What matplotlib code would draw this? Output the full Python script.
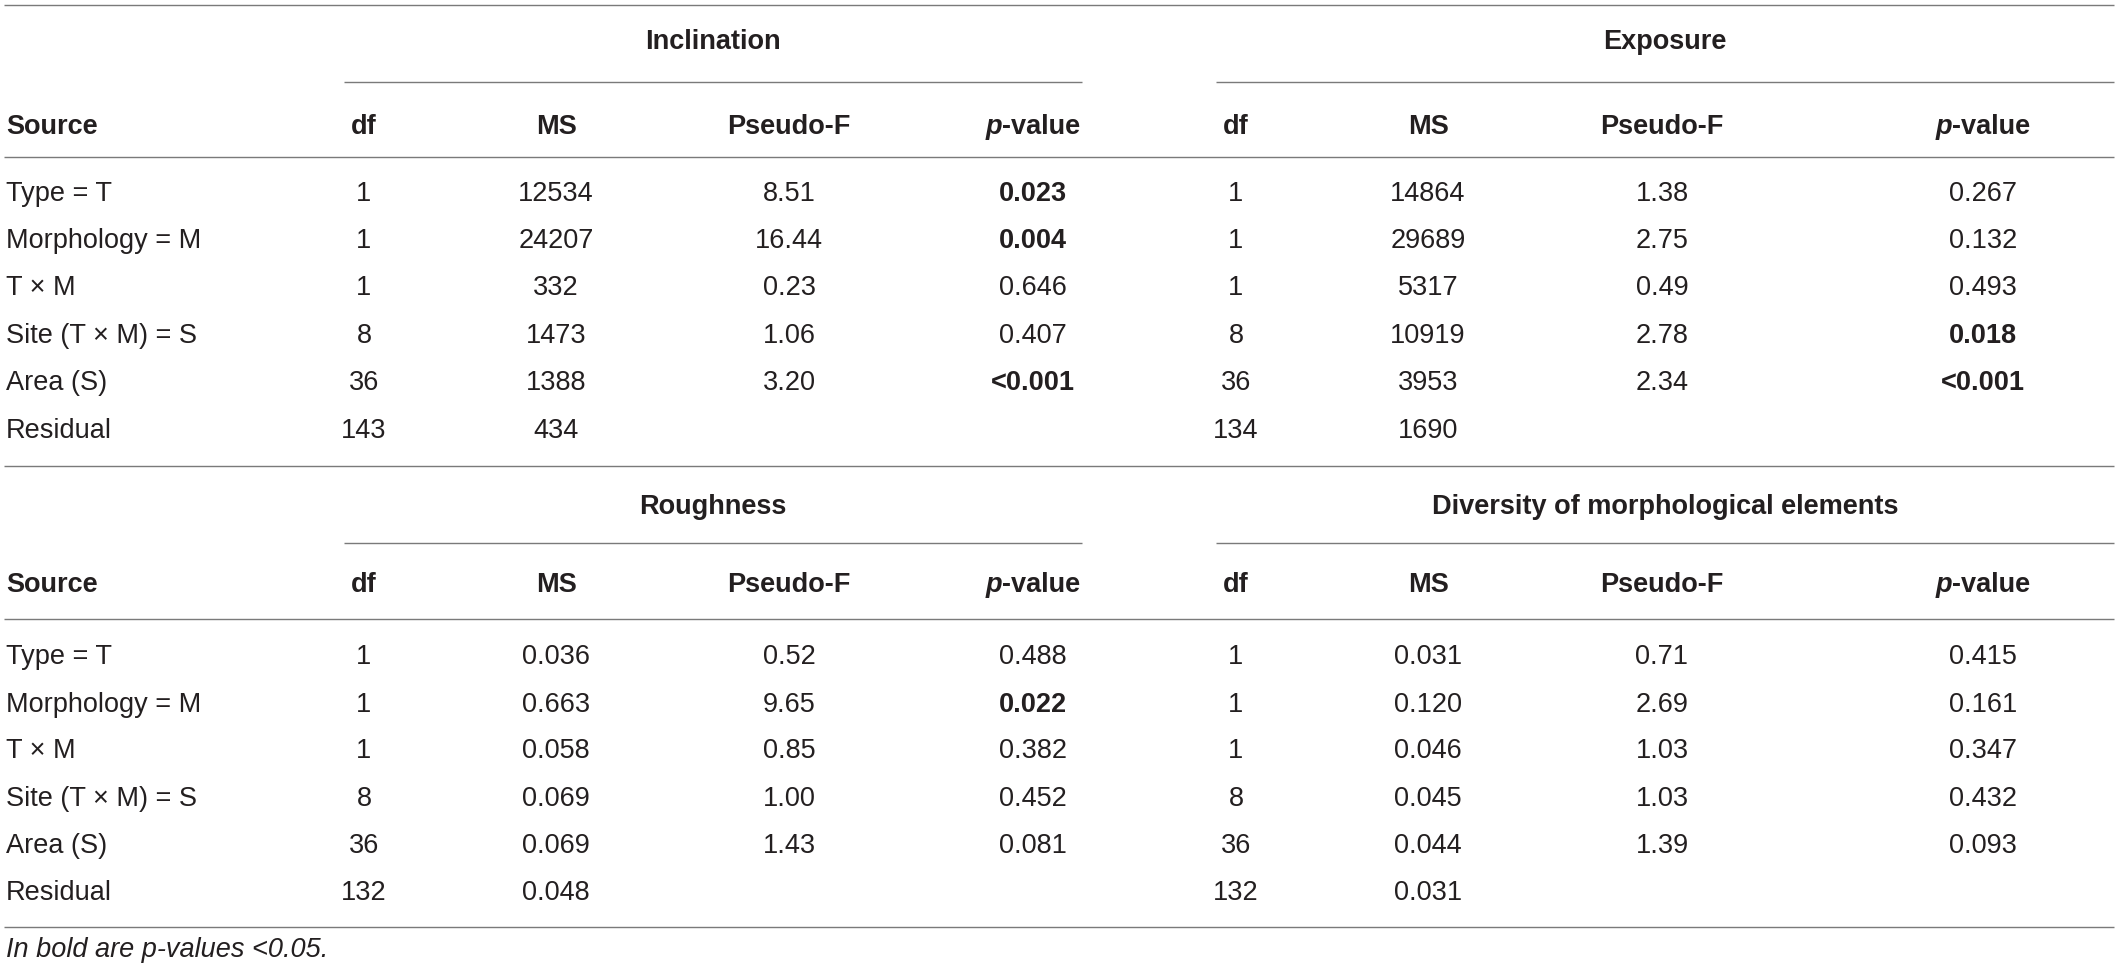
import matplotlib.pyplot as plt

plt.rcParams['font.family'] = ['Liberation Sans', 'DejaVu Sans']

W, H = 2118, 975
FS = 19.5
TXT = '#231f20'
LINE = '#7a7a7a'

# table data
sources = ["Type = T", "Morphology = M", "T \u00d7 M", "Site (T \u00d7 M) = S", "Area (S)", "Residual"]

incl_df = ["1", "1", "1", "8", "36", "143"]
incl_ms = ["12534", "24207", "332", "1473", "1388", "434"]
incl_f = ["8.51", "16.44", "0.23", "1.06", "3.20", ""]
incl_p = ["0.023", "0.004", "0.646", "0.407", "<0.001", ""]

expo_df = ["1", "1", "1", "8", "36", "134"]
expo_ms = ["14864", "29689", "5317", "10919", "3953", "1690"]
expo_f = ["1.38", "2.75", "0.49", "2.78", "2.34", ""]
expo_p = ["0.267", "0.132", "0.493", "0.018", "<0.001", ""]

rough_df = ["1", "1", "1", "8", "36", "132"]
rough_ms = ["0.036", "0.663", "0.058", "0.069", "0.069", "0.048"]
rough_f = ["0.52", "9.65", "0.85", "1.00", "1.43", ""]
rough_p = ["0.488", "0.022", "0.382", "0.452", "0.081", ""]

div_df = ["1", "1", "1", "8", "36", "132"]
div_ms = ["0.031", "0.120", "0.046", "0.045", "0.044", "0.031"]
div_f = ["0.71", "2.69", "1.03", "1.03", "1.39", ""]
div_p = ["0.415", "0.161", "0.347", "0.432", "0.093", ""]

col_names = ["df", "MS", "Pseudo-F"]
footnote = "In bold are p-values <0.05."

# layout (pixels)
left_cols = [364, 556, 789, 1033]
right_cols = [1236, 1428, 1662, 1983]
left_span = (344, 1082)
right_span = (1216, 2114)
blocks = [
    dict(top=40, sub=82, head=125, rule=157, rows=[192, 239, 286, 334, 381, 429],
         left=("Inclination", incl_df, incl_ms, incl_f, incl_p),
         right=("Exposure", expo_df, expo_ms, expo_f, expo_p)),
    dict(top=505, sub=543, head=583, rule=619, rows=[655, 703, 749, 797, 844, 891],
         left=("Roughness", rough_df, rough_ms, rough_f, rough_p),
         right=("Diversity of morphological elements", div_df, div_ms, div_f, div_p)),
]
BASE = 9  # baseline offset from visual centre


def is_sig(p):
    if p == "":
        return False
    if p.startswith("<"):
        return True
    return float(p) < 0.05


fig = plt.figure(figsize=(W / 100, H / 100), dpi=100)
ax = fig.add_axes([0, 0, 1, 1])
ax.set_xlim(0, W)
ax.set_ylim(H, 0)
ax.axis('off')


def hline(y, x0=4, x1=2114):
    ax.plot([x0, x1], [y, y], color=LINE, lw=1.0, solid_capstyle='butt')


def pvalue_header(xc, y):
    # italic p followed by bold "-value", centred as a whole
    j = xc - 31
    ax.text(j, y + BASE, "p", ha='right', va='baseline', fontsize=FS,
            fontweight='bold', fontstyle='italic', color=TXT)
    ax.text(j, y + BASE, "-value", ha='left', va='baseline', fontsize=FS,
            fontweight='bold', color=TXT)


hline(5)
for b in blocks:
    if b['top'] > 100:
        hline(466)
    for (title, dfs, mss, fs, ps), cols, span in ((b['left'], left_cols, left_span),
                                                   (b['right'], right_cols, right_span)):
        ax.text((span[0] + span[1]) / 2, b['top'] + BASE, title, ha='center', va='baseline',
                fontsize=FS, fontweight='bold', color=TXT)
        hline(b['sub'], span[0], span[1])
        for name, x in zip(col_names, cols):
            ax.text(x, b['head'] + BASE, name, ha='center', va='baseline', fontsize=FS,
                    fontweight='bold', color=TXT)
        pvalue_header(cols[3], b['head'])
        for i, y in enumerate(b['rows']):
            for vals, x in zip((dfs, mss, fs), cols):
                ax.text(x, y + BASE, vals[i], ha='center', va='baseline', fontsize=FS, color=TXT)
            ax.text(cols[3], y + BASE, ps[i], ha='center', va='baseline', fontsize=FS,
                    fontweight='bold' if is_sig(ps[i]) else 'normal', color=TXT)
    ax.text(6, b['head'] + BASE, "Source", ha='left', va='baseline', fontsize=FS,
            fontweight='bold', color=TXT)
    hline(b['rule'])
    for name, y in zip(sources, b['rows']):
        ax.text(6, y + BASE, name, ha='left', va='baseline', fontsize=FS, color=TXT)

hline(927)
ax.text(6, 957, footnote, ha='left', va='baseline', fontsize=FS,
        fontstyle='italic', color=TXT)

fig.savefig('out.png', dpi=100)
